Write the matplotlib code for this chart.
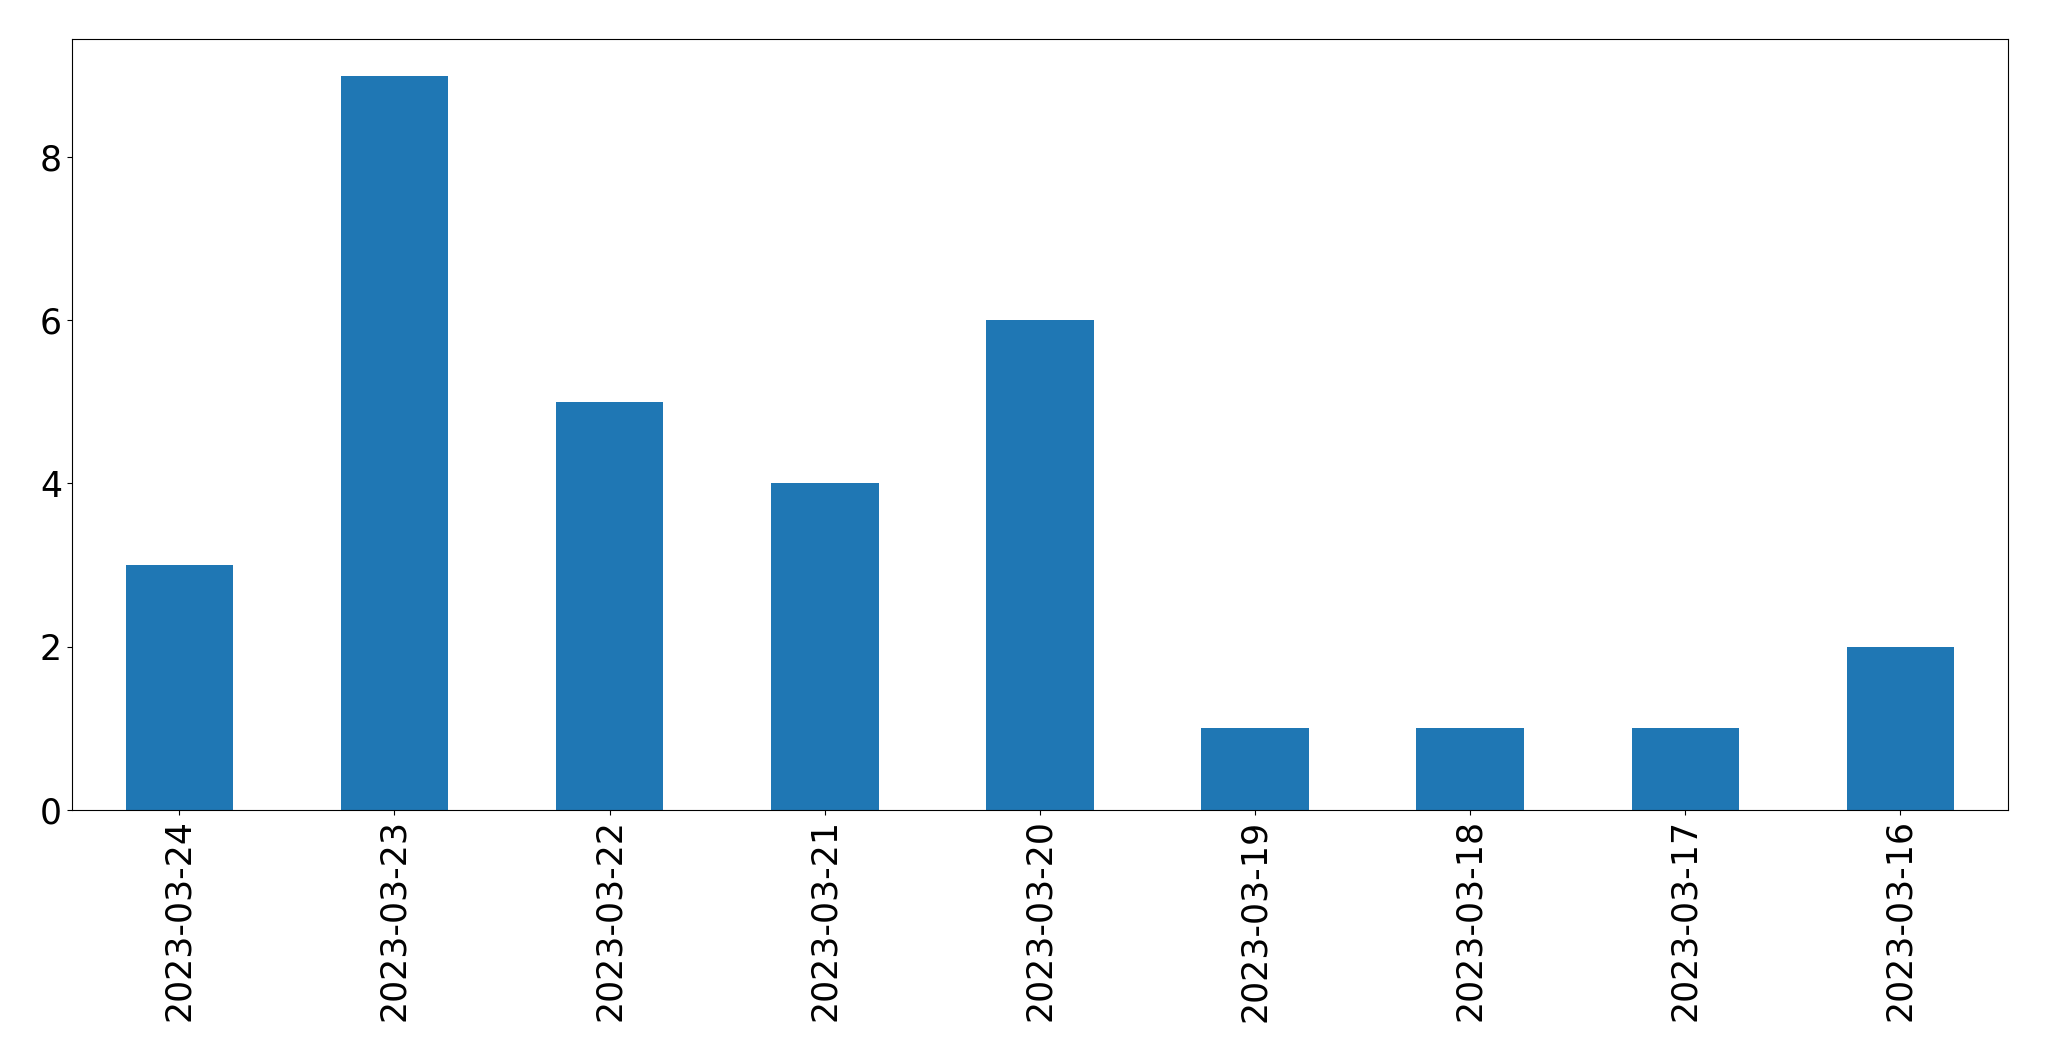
import matplotlib
matplotlib.use("Agg")
import matplotlib.pyplot as plt

dates = ["2023-03-24", "2023-03-23", "2023-03-22", "2023-03-21", "2023-03-20",
         "2023-03-19", "2023-03-18", "2023-03-17", "2023-03-16"]
counts = [3, 9, 5, 4, 6, 1, 1, 1, 2]

fig, ax = plt.subplots(figsize=(20.49, 10.61), dpi=100)
fig.subplots_adjust(left=0.035, right=0.980, top=0.963, bottom=0.237)

x = list(range(len(dates)))
ax.bar(x, counts, width=0.5, color="#1f77b4")
ax.set_xlim(-0.5, len(dates) - 0.5)
ax.set_xticks(x)
ax.set_xticklabels(dates, rotation=90, fontsize=25)
ax.tick_params(axis="y", labelsize=25)
ax.set_yticks([0, 2, 4, 6, 8])

fig.savefig("out.png", dpi=100)
